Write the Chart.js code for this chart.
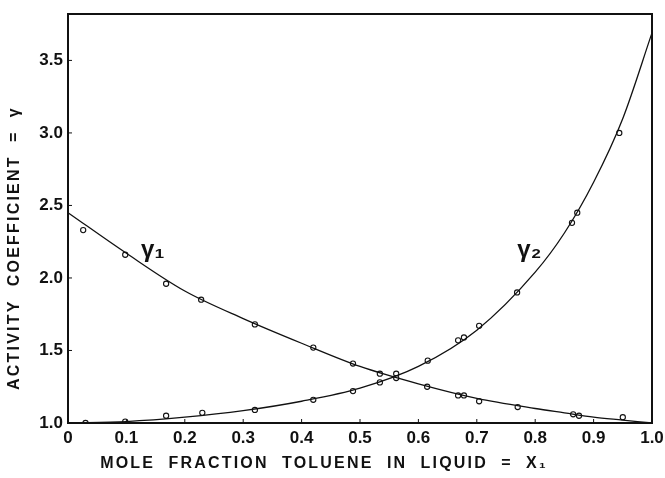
<!DOCTYPE html>
<html>
<head>
<meta charset="utf-8">
<script src="https://cdn.jsdelivr.net/npm/chart.js@4.4.0/dist/chart.umd.min.js"></script>
<style>
  html, body { margin: 0; padding: 0; background: #fff; }
  #wrap { width: 665px; height: 478px; }
</style>
</head>
<body>
<div id="wrap"><canvas id="chart" width="665" height="478"></canvas></div>
<script>
const gamma1X = [0.026, 0.098, 0.168, 0.228, 0.320, 0.420, 0.488, 0.534, 0.562, 0.615, 0.668, 0.678, 0.704, 0.770, 0.865, 0.875, 0.950];
const gamma1Y = [2.33, 2.16, 1.96, 1.85, 1.68, 1.52, 1.41, 1.34, 1.31, 1.25, 1.19, 1.19, 1.15, 1.11, 1.06, 1.05, 1.04];
const gamma2X = [0.030, 0.098, 0.168, 0.230, 0.320, 0.420, 0.488, 0.534, 0.562, 0.616, 0.668, 0.678, 0.704, 0.769, 0.863, 0.872, 0.944];
const gamma2Y = [1.00, 1.01, 1.05, 1.07, 1.09, 1.16, 1.22, 1.28, 1.34, 1.43, 1.57, 1.59, 1.67, 1.90, 2.38, 2.45, 3.00];

// smoothed curves
const curveX  = [0, 0.1, 0.2, 0.3, 0.4, 0.5, 0.6, 0.7, 0.8, 0.85, 0.9, 0.95, 1.0];
const curve1Y = [2.45, 2.17, 1.91, 1.72, 1.55, 1.39, 1.27, 1.17, 1.10, 1.07, 1.04, 1.02, 1.00];
const curve2Y = [1.00, 1.01, 1.04, 1.085, 1.15, 1.24, 1.39, 1.64, 2.04, 2.31, 2.66, 3.10, 3.69];

const xTicks = [0, 0.1, 0.2, 0.3, 0.4, 0.5, 0.6, 0.7, 0.8, 0.9, 1.0];
const yTicks = [1.0, 1.5, 2.0, 2.5, 3.0, 3.5];

const FONT = 'Liberation Sans, Arial, sans-serif';

const toPts = (xs, ys) => xs.map((x, i) => ({ x: x, y: ys[i] }));

// frame, inward ticks, curve labels and axis titles
const decorations = {
  id: 'decorations',
  afterDraw(chart) {
    const ctx = chart.ctx;
    const a = chart.chartArea;
    const xs = chart.scales.x;
    const ys = chart.scales.y;
    ctx.save();
    ctx.strokeStyle = '#111';
    ctx.lineWidth = 2;
    ctx.strokeRect(a.left, a.top, a.right - a.left, a.bottom - a.top);

    ctx.lineWidth = 1;
    xTicks.forEach(v => {
      const px = xs.getPixelForValue(v);
      ctx.beginPath();
      ctx.moveTo(px, a.bottom);
      ctx.lineTo(px, a.bottom - 4);
      ctx.stroke();
    });
    yTicks.forEach(v => {
      const py = ys.getPixelForValue(v);
      ctx.beginPath();
      ctx.moveTo(a.left, py);
      ctx.lineTo(a.left + 4, py);
      ctx.stroke();
    });

    ctx.fillStyle = '#111';
    ctx.font = 'bold 24px ' + FONT;
    ctx.textAlign = 'center';
    ctx.textBaseline = 'middle';
    ctx.fillText('\u03B3\u2081', xs.getPixelForValue(0.145), ys.getPixelForValue(2.19));
    ctx.fillText('\u03B3\u2082', xs.getPixelForValue(0.79), ys.getPixelForValue(2.19));

    ctx.font = 'bold 16px ' + FONT;
    ctx.letterSpacing = '2.2px';
    ctx.fillText('MOLE  FRACTION  TOLUENE  IN  LIQUID  =  X\u2081', 324, 464);
    ctx.translate(15, 248);
    ctx.rotate(-Math.PI / 2);
    ctx.fillText('ACTIVITY  COEFFICIENT  =  \u03B3', 0, 0);
    ctx.restore();
  }
};

const ctx = document.getElementById('chart');
new Chart(ctx, {
  type: 'scatter',
  data: {
    datasets: [
      {
        label: 'gamma1 fit',
        type: 'line',
        data: toPts(curveX, curve1Y),
        borderColor: '#111',
        borderWidth: 1.3,
        pointRadius: 0,
        cubicInterpolationMode: 'monotone',
        fill: false
      },
      {
        label: 'gamma2 fit',
        type: 'line',
        data: toPts(curveX, curve2Y),
        borderColor: '#111',
        borderWidth: 1.3,
        pointRadius: 0,
        cubicInterpolationMode: 'monotone',
        fill: false
      },
      {
        label: 'gamma1',
        data: toPts(gamma1X, gamma1Y),
        pointRadius: 2.6,
        pointBorderWidth: 1.1,
        pointBackgroundColor: '#fff',
        pointBorderColor: '#111'
      },
      {
        label: 'gamma2',
        data: toPts(gamma2X, gamma2Y),
        pointRadius: 2.6,
        pointBorderWidth: 1.1,
        pointBackgroundColor: '#fff',
        pointBorderColor: '#111'
      }
    ]
  },
  options: {
    responsive: false,
    animation: false,
    layout: { padding: { top: 14, right: 13, left: 0, bottom: 0 } },
    plugins: { legend: { display: false }, tooltip: { enabled: false } },
    scales: {
      x: {
        type: 'linear',
        min: 0,
        max: 1,
        afterFit: s => { s.height = 55; s.paddingRight = 0; s.paddingLeft = 0; },
        afterBuildTicks: s => { s.ticks = xTicks.map(v => ({ value: v })); },
        grid: { display: false, drawTicks: false },
        border: { display: false },
        ticks: {
          padding: 5,
          color: '#111',
          font: { family: FONT, size: 17, weight: 'bold' },
          maxRotation: 0,
          callback: v => (v === 0 ? '0' : v.toFixed(1))
        }
      },
      y: {
        type: 'linear',
        min: 1,
        max: 3.82,
        afterFit: s => { s.width = 68; s.paddingTop = 0; s.paddingBottom = 0; },
        afterBuildTicks: s => { s.ticks = yTicks.map(v => ({ value: v })); },
        grid: { display: false, drawTicks: false },
        border: { display: false },
        ticks: {
          padding: 5,
          color: '#111',
          font: { family: FONT, size: 17, weight: 'bold' },
          callback: v => v.toFixed(1)
        }
      }
    }
  },
  plugins: [decorations]
});
</script>
</body>
</html>
